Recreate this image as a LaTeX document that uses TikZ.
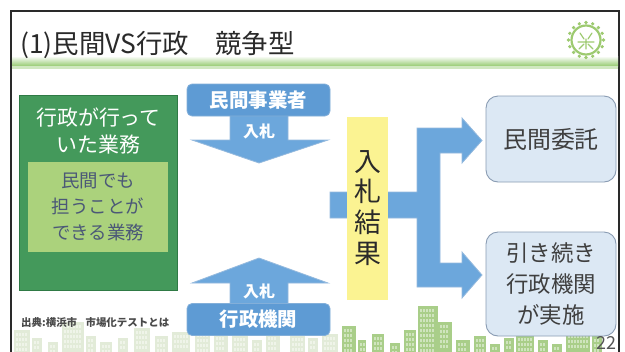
\documentclass[tikz,border=0pt]{standalone}
\usepackage{fontspec}
\setmainfont{Noto Sans CJK JP}
\usetikzlibrary{calc}

\definecolor{arrowblue}{HTML}{6CA7DC}
\definecolor{arrowedge}{HTML}{4E8CC8}
\definecolor{headblue}{HTML}{5E9BD4}
\definecolor{taskgreen}{HTML}{44995B}
\definecolor{taskedge}{HTML}{2F7A45}
\definecolor{sharegreen}{HTML}{ABD27C}
\definecolor{sharetext}{HTML}{4B5877}
\definecolor{resultfill}{HTML}{DCE8F4}
\definecolor{resultedge}{HTML}{8A9CB3}
\definecolor{bidyellow}{HTML}{FBF392}
\definecolor{titlegreen}{HTML}{96CB72}
\definecolor{cityfaint}{HTML}{E2EBD8}
\definecolor{citygreen}{HTML}{A9CE89}
\definecolor{emblem}{HTML}{9DCA70}
\definecolor{ink}{HTML}{2A2A2A}

% one building of the skyline: left, right, roof, colour
\newcommand\cityblock[4]{%
  \fill[#4] (#1,#3) rectangle (#2,352);
  \pgfmathsetmacro\wa{#1+2}\pgfmathsetmacro\wb{#1+5}\pgfmathsetmacro\wc{#2-4}%
  \pgfmathsetmacro\ha{#3+3}\pgfmathsetmacro\hb{#3+8}%
  \foreach \wx in {\wa,\wb,...,\wc}
    \foreach \wy in {\ha,\hb,...,349}
      \fill[white,opacity=.45] (\wx,\wy) rectangle ++(2,3);
}

\tikzset{
  bidhead/.style={draw=arrowedge!70!white, line width=.8bp, fill=headblue,
    rounded corners=5bp, minimum width=143bp, minimum height=32bp,
    text=white, font=\fontsize{19.5}{19.5}\selectfont\bfseries, inner sep=0pt},
  bidtag/.style={text=white, font=\fontsize{16}{16}\selectfont\bfseries, inner sep=0pt},
  bidarrow/.style={fill=arrowblue, draw=arrowedge!60!white, line width=.8bp},
  resultbox/.style={draw=resultedge, line width=.9bp, fill=resultfill,
    rounded corners=12bp, text=ink!90, align=center, inner sep=0pt},
}

\begin{document}
\begin{tikzpicture}[x=1bp,y=-1bp]
\useasboundingbox (0,0) rectangle (625,351);
\fill[white] (0,0) rectangle (625,351);

% skyline along the bottom edge
\foreach \l/\r/\t in {14/30/330,32/42/338,48/58/342,62/84/322,86/96/336,100/112/342,
  118/128/338,134/150/328,155/168/336,172/190/332,195/210/326,214/228/334,232/248/330,
  252/262/340,266/280/334,290/305/330,308/318/338,322/338/334}
  {\cityblock{\l}{\r}{\t}{cityfaint}}
\foreach \l/\r/\t in {342/356/326,358/366/340,372/384/334,390/400/343,404/416/330,
  418/438/306,438/452/322,456/470/340,474/486/336,490/500/344,504/514/338,516/534/320,
  538/548/340,552/562/344,566/590/322,592/602/336}
  {\cityblock{\l}{\r}{\t}{citygreen}}

% slide frame
\draw[ink, line width=1.4bp] (11,352) -- (11,11) -- (619,11) -- (619,352);

% title and its green rule
\shade[top color=white, bottom color=titlegreen] (12,56) rectangle (618,66);
\fill[titlegreen!45!white] (12,66) rectangle (618,69);
\node[anchor=west, text=ink, font=\fontsize{26.5}{26.5}\selectfont, inner sep=0pt]
  (title) at (20,45) {(1)民間VS行政\hspace{1em}競争型};

% emblem
\begin{scope}[shift={(586,40)}]
  \foreach \a in {0,22.5,...,337.5}
    \fill[emblem] (\a:17.5) circle (1.8bp);
  \draw[emblem, line width=2.2bp] (0,0) circle (14.5bp);
  \draw[emblem, line width=1.2bp, line cap=round]
    (-6,-7) -- (-2,-1) (6,-7) -- (2,-1)
    (-8,2) -- (8,2) (0,-1) -- (0,9) (-7,9) -- (-2,4) (7,9) -- (2,4);
\end{scope}

% work previously done by the administration
\node[draw=taskedge, line width=1bp, fill=taskgreen, minimum width=157bp,
  minimum height=195bp, inner sep=0pt] (legacy) at (98.5,192.5) {};
\node[text=white, align=center, font=\fontsize{21}{27}\selectfont, inner sep=0pt]
  (legacytext) at (98.5,131) {行政が行って\\いた業務};
\node[fill=sharegreen, minimum width=140bp, minimum height=90bp, inner sep=0pt,
  text=sharetext, align=center, font=\fontsize{18.5}{26}\selectfont]
  (shared) at (98,207) {民間でも\\担うことが\\できる業務};

% bids coming in from above and below
\path[bidarrow] (230,112) -- (288,112) -- (288,140) -- (328,140) -- (259,163)
  -- (192,140) -- (230,140) -- cycle;
\node[bidhead] (private) at (258.5,100) {民間事業者};
\node[bidtag] (bidtop) at (259,131) {入札};

\path[bidarrow] (259,258) -- (328,283) -- (288,283) -- (288,306) -- (230,306)
  -- (230,283) -- (192,283) -- cycle;
\node[bidhead] (public) at (258.5,319.5) {行政機関};
\node[bidtag] (bidbottom) at (259,291) {入札};

% result of the bidding and the two outcomes
\path[bidarrow] (330,192) -- (417,192) -- (417,128) -- (462,128) -- (462,118)
  -- (482,140.5) -- (462,163) -- (462,153) -- (440,153) -- (440,263) -- (462,263)
  -- (462,252) -- (482,275) -- (462,298) -- (462,287) -- (417,287) -- (417,218)
  -- (330,218) -- cycle;
\node[fill=bidyellow, minimum width=41bp, minimum height=183bp, inner sep=0pt]
  (result) at (367.5,208.5) {};
\node[text=ink, align=center, font=\fontsize{27}{31}\selectfont, inner sep=0pt]
  (resulttext) at (367.5,208) {入\\札\\結\\果};

\node[resultbox, minimum width=130bp, minimum height=86bp,
  font=\fontsize{24}{24}\selectfont] (outsource) at (551,139) {民間委託};
\node[resultbox, minimum width=130bp, minimum height=104bp,
  font=\fontsize{22.5}{31}\selectfont] (keep) at (551,284) {引き続き\\行政機関\\が実施};

% source and page number
\node[anchor=west, text=ink!85, font=\fontsize{10.5}{10.5}\selectfont\bfseries,
  inner sep=0pt] (source) at (21,323) {出典:横浜市\hspace{0.8em}市場化テストとは};
\node[text=ink!80, font=\fontsize{18}{18}\selectfont, inner sep=0pt]
  (page) at (606,343) {22};
\end{tikzpicture}
\end{document}
